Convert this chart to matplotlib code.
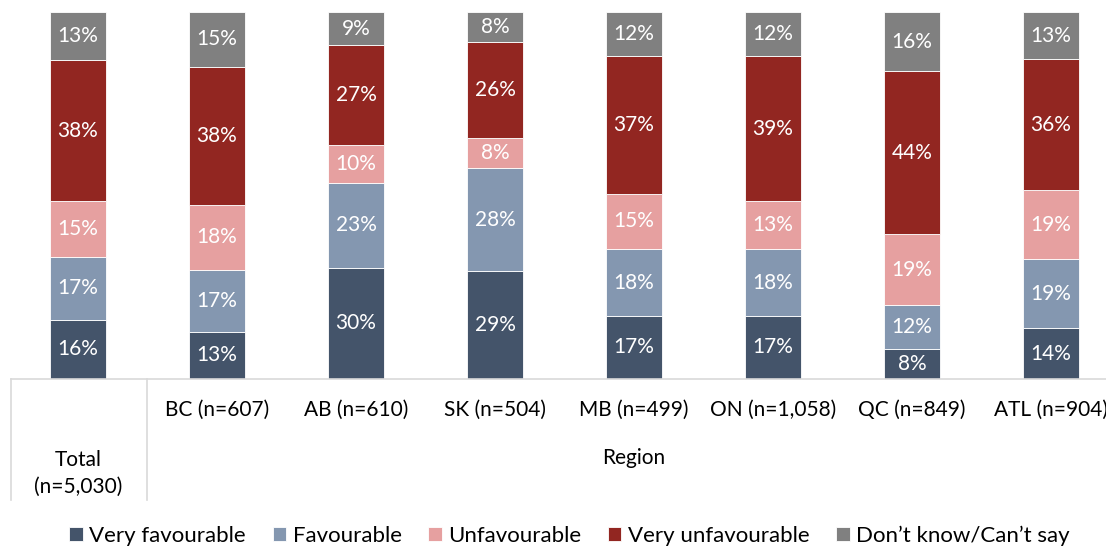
import matplotlib.pyplot as plt
import numpy as np

plt.rcParams['font.family'] = ['Lato', 'DejaVu Sans']

categories = ['Total\n(n=5,030)', 'BC (n=607)', 'AB (n=610)', 'SK (n=504)',
              'MB (n=499)', 'ON (n=1,058)', 'QC (n=849)', 'ATL (n=904)']
series_names = ['Very favourable', 'Favourable', 'Unfavourable',
                'Very unfavourable', 'Don\u2019t know/Can\u2019t say']
very_fav = [16, 13, 30, 29, 17, 17, 8, 14]
fav = [17, 17, 23, 28, 18, 18, 12, 19]
unfav = [15, 18, 10, 8, 15, 13, 19, 19]
very_unfav = [38, 38, 27, 26, 37, 39, 44, 36]
dont_know = [13, 15, 9, 8, 12, 12, 16, 13]
colors = ['#44546A', '#8497B0', '#E6A0A0', '#922621', '#808080']

data = np.array([very_fav, fav, unfav, very_unfav, dont_know], dtype=float)
# rounded labels don't always sum to 100; bars are drawn as full 100% stacks
shares = data / data.sum(axis=0) * 100

fig = plt.figure(figsize=(11.06, 5.48), dpi=100)
ax = fig.add_axes([11 / 1106, 1 - 379 / 548, 1 - 11 / 1106, (379 - 12) / 548])

x = np.arange(len(categories))
bottom = np.zeros(len(categories))
for name, vals, labs, col in zip(series_names, shares, data, colors):
    ax.bar(x, vals, 0.4, bottom=bottom, color=col, label=name,
           edgecolor='white', linewidth=0.6)
    for xi, b, v, lab in zip(x, bottom, vals, labs):
        ax.text(xi, b + v / 2, f'{lab:.0f}%', ha='center', va='center',
                color='white', fontsize=15)
    bottom += vals

ax.set_xlim(-0.482, 7.396)
ax.set_ylim(0, 100)
for s in ['top', 'right', 'left']:
    ax.spines[s].set_visible(False)
ax.spines['bottom'].set_color('#D9D9D9')
ax.spines['bottom'].set_linewidth(1.2)
ax.set_xticks([])
ax.set_yticks([])

# category table below axis
trans = ax.get_xaxis_transform()
for xi, lab in zip(x[1:], categories[1:]):
    ax.text(xi, -0.085, lab, transform=trans, ha='center', va='center',
            fontsize=15, color='#000000')
ax.text(x[0], -0.258, categories[0], transform=trans, ha='center',
        va='center', fontsize=15, linespacing=1.4)
ax.text(np.mean(x[1:]), -0.215, 'Region', transform=trans, ha='center',
        va='center', fontsize=15)
for xp in [-0.482, 0.5]:
    ax.plot([xp, xp], [0, -0.33], transform=trans, color='#D9D9D9',
            lw=1.2, clip_on=False)

handles, labels = ax.get_legend_handles_labels()
fig.legend(handles, labels, loc='center', bbox_to_anchor=(0.515, 0.022),
           ncol=5, frameon=False, fontsize=16, handlelength=0.6,
           handleheight=0.6, handletextpad=0.3, columnspacing=1.2)

fig.savefig('out.png', dpi=100)
